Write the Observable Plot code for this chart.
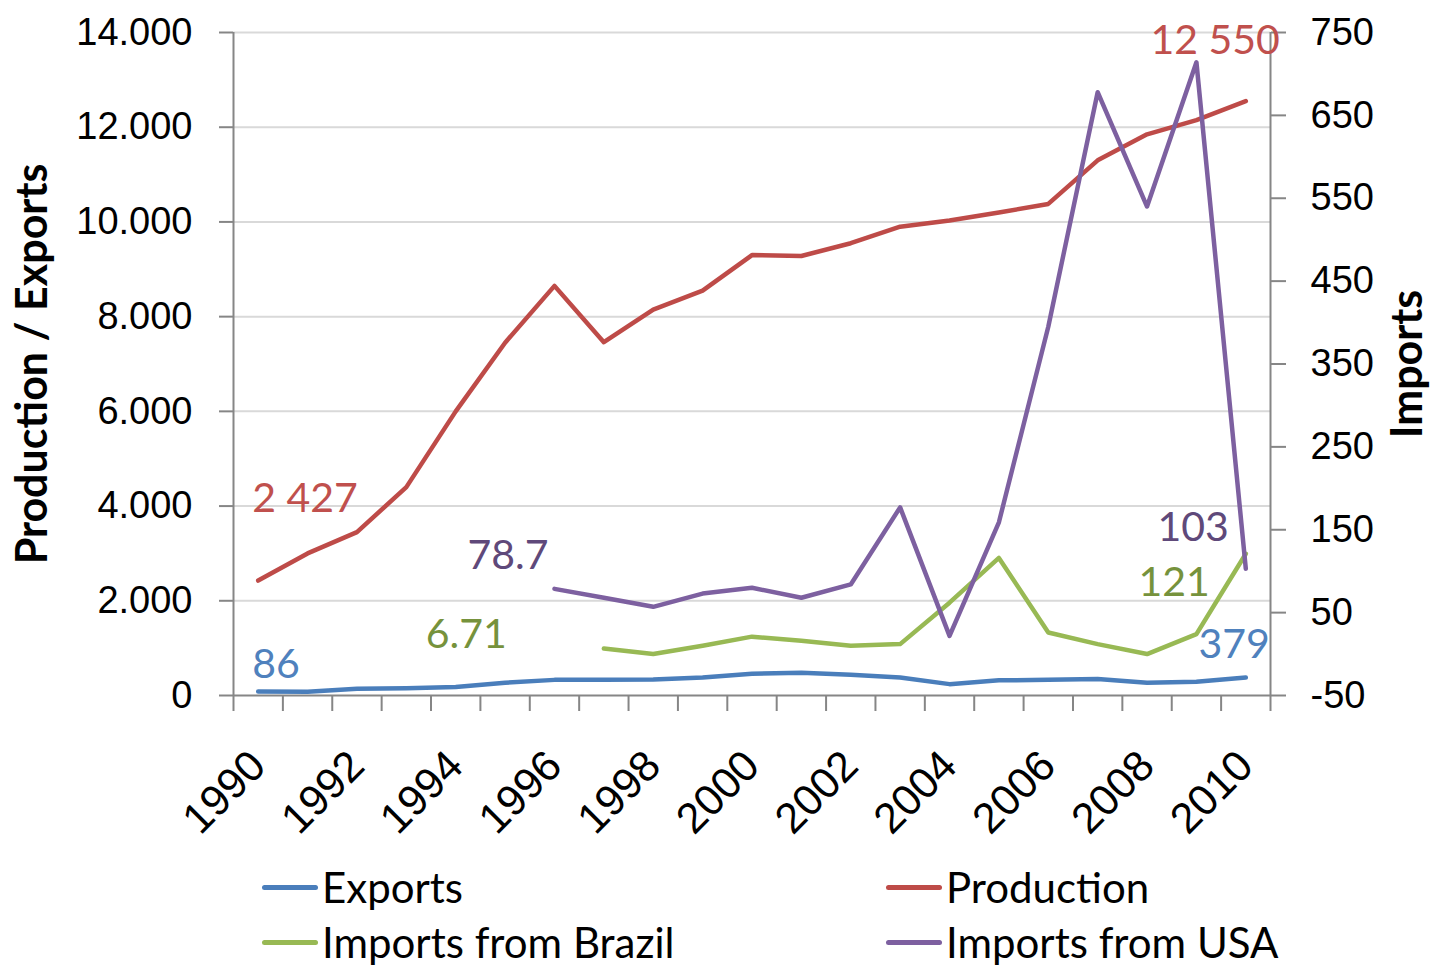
<!DOCTYPE html>
<html>
<head>
<meta charset="utf-8">
<script src="https://cdn.jsdelivr.net/npm/d3@7"></script>
<script src="https://cdn.jsdelivr.net/npm/@observablehq/plot@0.6"></script>
<style>
  html, body { margin: 0; padding: 0; background: #fff; }
  #wrap { position: relative; width: 1432px; height: 968px; overflow: hidden; background: #fff; }
  #wrap svg { display: block; }
  .leg { position: absolute; height: 42px; line-height: 42px; display: flex; align-items: center; white-space: nowrap;
         font-family: Lato, "Noto Sans", sans-serif; font-size: 42px; color: #000; }
  .sw { width: 56px; height: 5px; border-radius: 3px; margin-right: 4px; }
</style>
</head>
<body>
<div id="wrap"></div>
<script>
// ---------- data ----------
const years = [1990, 1991, 1992, 1993, 1994, 1995, 1996, 1997, 1998, 1999, 2000,
               2001, 2002, 2003, 2004, 2005, 2006, 2007, 2008, 2009, 2010];
const labelYears = [1990, 1992, 1994, 1996, 1998, 2000, 2002, 2004, 2006, 2008, 2010];
const leftTicks = [0, 2000, 4000, 6000, 8000, 10000, 12000, 14000];
const rightTicks = [-50, 50, 150, 250, 350, 450, 550, 650, 750];

const exportsVals = [86, 80, 140, 155, 180, 270, 330, 335, 340, 380, 460,
                     480, 440, 380, 240, 320, 330, 350, 270, 290, 379];
const production = [2427, 3000, 3450, 4400, 6000, 7450, 8650, 7460, 8150, 8550, 9300,
                    9280, 9550, 9900, 10030, 10200, 10380, 11300, 11850, 12150, 12550];
const importsBrazil = [null, null, null, null, null, null, null, 6.71, 0, 10, 21,
                       16, 10, 12, 62, 116, 26, 12, 0, 24, 121];
const importsUSA = [null, null, null, null, null, null, 78.7, 68, 57, 73, 80,
                    68, 84, 177, 22, 159, 395, 678, 540, 714, 103];

const seriesNames = ["Exports", "Production", "Imports from Brazil", "Imports from USA"];
const seriesValues = [exportsVals, production, importsBrazil, importsUSA];
const seriesAxis = ["left", "left", "right", "right"];

// ---------- styles ----------
const lineColors = ["#4A7EBB", "#BE4B48", "#98B954", "#7D60A0"];
const labelColors = ["#4F81BD", "#C0504D", "#76923C", "#5F497A"];

// ---------- dual axis mapping ----------
const leftMin = leftTicks[0], leftMax = leftTicks[leftTicks.length - 1];
const rightMin = rightTicks[0], rightMax = rightTicks[rightTicks.length - 1];
const toLeft = v => (v - rightMin) * (leftMax - leftMin) / (rightMax - rightMin) + leftMin;
const fromLeft = v => (v - leftMin) * (rightMax - rightMin) / (leftMax - leftMin) + rightMin;

const fmtDot = d3.formatLocale({decimal: ",", thousands: ".", grouping: [3], currency: ["", ""]}).format(",");
const fmtSpace = d3.formatLocale({decimal: ".", thousands: " ", grouping: [3], currency: ["", ""]}).format(",");

const rows = seriesNames.map((name, s) =>
  years.map((yr, i) => ({
    series: name, year: yr, raw: seriesValues[s][i],
    v: seriesValues[s][i] == null ? null
       : (seriesAxis[s] === "right" ? toLeft(seriesValues[s][i]) : seriesValues[s][i])
  })).filter(d => d.raw != null)
);

const boundaries = years.map(y => y - 0.5).concat([years[years.length - 1] + 0.5]);
const xDomain = [boundaries[0], boundaries[boundaries.length - 1]];

const labelText = (s, v) => s === 1 ? fmtSpace(v) : String(v);

// end labels: series index, which end, offsets
const endLabels = [
  {s: 1, end: 0, anchor: "start", dx: -6, dy: -82},
  {s: 1, end: 1, anchor: "end", dx: 34, dy: -60},
  {s: 0, end: 0, anchor: "start", dx: -6, dy: -27},
  {s: 0, end: 1, anchor: "end", dx: 24, dy: -33},
  {s: 2, end: 0, anchor: "end", dx: -97, dy: -14},
  {s: 2, end: 1, anchor: "end", dx: -36, dy: 29},
  {s: 3, end: 0, anchor: "end", dx: -6, dy: -33},
  {s: 3, end: 1, anchor: "end", dx: -17, dy: -41}
];

const labelMarks = endLabels.map(L => {
  const r = rows[L.s];
  const d = L.end === 0 ? r[0] : r[r.length - 1];
  return Plot.text([d], {
    x: "year", y: "v", text: dd => labelText(L.s, dd.raw),
    textAnchor: L.anchor, dx: L.dx, dy: L.dy,
    fill: labelColors[L.s], fontSize: 41, fontFamily: "Lato, 'Noto Sans', sans-serif"
  });
});

const lineMarks = rows.map((r, s) =>
  Plot.line(r, {x: "year", y: "v", stroke: lineColors[s], strokeWidth: 4.5,
                strokeLinejoin: "round", strokeLinecap: "round"})
);

const chart = Plot.plot({
  width: 1432,
  height: 850,
  marginLeft: 233,
  marginRight: 162,
  marginTop: 32,
  marginBottom: 155,
  x: {type: "linear", domain: xDomain},
  y: {type: "linear", domain: [leftMin, leftMax]},
  style: {fontFamily: "'Liberation Sans', Arial, sans-serif", fontSize: "38px",
          background: "#fff", color: "#000", overflow: "visible"},
  marks: [
    Plot.ruleY(leftTicks.slice(1), {stroke: "#d9d9d9", strokeWidth: 2}),
    Plot.ruleX([xDomain[0]], {stroke: "#868686", strokeWidth: 2}),
    Plot.ruleX([xDomain[1]], {stroke: "#868686", strokeWidth: 2}),
    Plot.ruleY([leftMin], {stroke: "#868686", strokeWidth: 2}),
    Plot.axisY({anchor: "left", ticks: leftTicks, tickSize: 14, tickPadding: 27,
                tickFormat: d => fmtDot(d), stroke: "#868686", strokeWidth: 2,
                fill: "#000", label: null, fontSize: 38}),
    Plot.axisY({anchor: "right", ticks: rightTicks.map(toLeft), tickSize: 15, tickPadding: 25,
                tickFormat: d => String(Math.round(fromLeft(d))), stroke: "#868686", strokeWidth: 2,
                fill: "#000", label: null, fontSize: 38}),
    Plot.axisX({ticks: boundaries, tickSize: 16, tickFormat: () => "", stroke: "#868686",
                strokeWidth: 2, label: null}),
    Plot.axisX({ticks: labelYears, tickSize: 0, tickPadding: 63, tickRotate: -45,
                tickFormat: d => String(d), fill: "#000", label: null, fontSize: 43}),
    ...lineMarks,
    ...labelMarks,
    Plot.text(["Production / Exports"], {text: d => d, frameAnchor: "left", textAnchor: "middle",
               rotate: -90, dx: -200, fontSize: 43, fontWeight: "bold",
               fontFamily: "Lato, 'Noto Sans', sans-serif", fill: "#000"}),
    Plot.text(["Imports"], {text: d => d, frameAnchor: "right", textAnchor: "middle",
               rotate: -90, dx: 138, fontSize: 43, fontWeight: "bold",
               fontFamily: "Lato, 'Noto Sans', sans-serif", fill: "#000"})
  ]
});

const wrap = document.getElementById("wrap");
wrap.appendChild(chart);

// ---------- legend (HTML, below the SVG) ----------
const legendPos = [[262, 866], [886, 866], [262, 921], [886, 921]];
seriesNames.forEach((name, s) => {
  const item = document.createElement("div");
  item.className = "leg";
  item.style.left = legendPos[s][0] + "px";
  item.style.top = legendPos[s][1] + "px";
  const sw = document.createElement("div");
  sw.className = "sw";
  sw.style.background = lineColors[s];
  const tx = document.createElement("span");
  tx.textContent = name;
  item.appendChild(sw);
  item.appendChild(tx);
  wrap.appendChild(item);
});
</script>
</body>
</html>
